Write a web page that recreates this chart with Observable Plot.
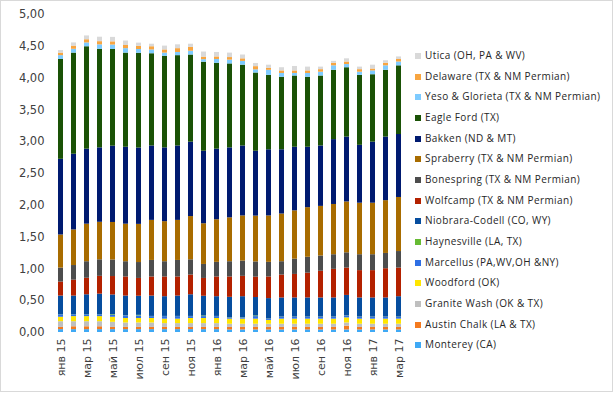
<!DOCTYPE html>
<html>
<head>
<meta charset="utf-8">
<script src="https://cdn.jsdelivr.net/npm/d3@7"></script>
<script src="https://cdn.jsdelivr.net/npm/@observablehq/plot@0.6"></script>
<style>
  html, body { margin: 0; padding: 0; background: #fff; }
  #wrap { position: relative; width: 613px; height: 392px; box-sizing: border-box; border: 1px solid #d9d9d9; overflow: hidden; }
  #chart { position: absolute; left: -1px; top: -1px; }
  .lg { position: absolute; left: 414px; font-family: "Open Sans", sans-serif; font-size: 10px; letter-spacing: 0.4px; color: #262626; white-space: nowrap; height: 14px; line-height: 14px; }
  .lg span.sw { display: inline-block; width: 6px; height: 6px; margin-right: 4px; vertical-align: 0px; }
</style>
</head>
<body>
<div id="wrap"><div id="chart"></div></div>
<script>
const months = [
  "янв 15","фев 15","мар 15","апр 15","май 15","июн 15","июл 15","авг 15","сен 15","окт 15","ноя 15","дек 15",
  "янв 16","фев 16","мар 16","апр 16","май 16","июн 16","июл 16","авг 16","сен 16","окт 16","ноя 16","дек 16",
  "янв 17","фев 17","мар 17"
];
const tickLabels = ["янв 15","мар 15","май 15","июл 15","сен 15","ноя 15","янв 16","мар 16","май 16","июл 16","сен 16","ноя 16","янв 17","мар 17"];
const yTicks = [0, 0.5, 1, 1.5, 2, 2.5, 3, 3.5, 4, 4.5, 5];

// series, bottom of stack first
const monterey    = [0.045,0.045,0.045,0.045,0.045,0.045,0.045,0.045,0.045,0.045,0.045,0.045,0.045,0.04,0.04,0.04,0.04,0.04,0.04,0.04,0.04,0.04,0.04,0.04,0.04,0.04,0.04];
const austinChalk = [0.035,0.045,0.045,0.045,0.035,0.035,0.035,0.035,0.035,0.035,0.035,0.035,0.035,0.04,0.04,0.04,0.04,0.04,0.04,0.04,0.04,0.04,0.06,0.04,0.04,0.04,0.04];
const graniteWash = [0.09,0.08,0.08,0.08,0.08,0.07,0.07,0.07,0.06,0.06,0.06,0.06,0.06,0.05,0.05,0.05,0.05,0.05,0.05,0.05,0.05,0.05,0.05,0.05,0.05,0.05,0.05];
const woodford    = [0.07,0.08,0.08,0.08,0.08,0.07,0.07,0.07,0.07,0.07,0.08,0.08,0.08,0.08,0.08,0.08,0.06,0.08,0.08,0.08,0.08,0.08,0.08,0.08,0.08,0.08,0.08];
const marcellus   = [0.04,0.03,0.03,0.03,0.03,0.04,0.04,0.03,0.04,0.04,0.03,0.03,0.03,0.02,0.02,0.04,0.02,0.03,0.03,0.03,0.03,0.03,0.03,0.03,0.03,0.03,0.03];
const haynesville = [0.003,0.003,0.003,0.003,0.01,0.003,0.01,0.003,0.003,0.003,0.003,0.01,0.003,0.003,0.003,0.01,0.003,0.003,0.003,0.003,0.003,0.003,0.003,0.003,0.003,0.003,0.003];
const niobrara    = [0.29,0.29,0.31,0.32,0.31,0.31,0.30,0.32,0.31,0.32,0.34,0.31,0.31,0.32,0.33,0.29,0.32,0.30,0.30,0.30,0.30,0.30,0.32,0.30,0.30,0.30,0.32];
const wolfcamp    = [0.22,0.25,0.26,0.28,0.29,0.30,0.28,0.30,0.31,0.30,0.31,0.28,0.31,0.32,0.32,0.32,0.34,0.36,0.37,0.39,0.42,0.45,0.43,0.43,0.43,0.46,0.45];
const bonespring  = [0.22,0.23,0.26,0.26,0.26,0.24,0.25,0.26,0.24,0.26,0.24,0.22,0.23,0.24,0.24,0.24,0.23,0.21,0.24,0.25,0.24,0.23,0.24,0.25,0.25,0.24,0.26];
const spraberry   = [0.52,0.56,0.59,0.59,0.59,0.59,0.60,0.63,0.63,0.63,0.68,0.64,0.67,0.69,0.71,0.72,0.73,0.75,0.76,0.78,0.78,0.79,0.80,0.81,0.81,0.83,0.85];
const bakken      = [1.19,1.19,1.18,1.17,1.20,1.21,1.20,1.17,1.16,1.17,1.17,1.14,1.11,1.10,1.10,1.02,1.04,1.01,1.00,0.95,0.95,1.02,1.02,0.91,0.96,1.00,0.99];
const eagleFord   = [1.57,1.59,1.61,1.55,1.52,1.48,1.49,1.45,1.44,1.42,1.37,1.40,1.35,1.32,1.27,1.23,1.17,1.14,1.12,1.10,1.10,1.09,1.09,1.10,1.06,1.05,1.08];
const yeso        = [0.06,0.06,0.06,0.07,0.07,0.07,0.06,0.06,0.05,0.05,0.06,0.04,0.06,0.06,0.06,0.05,0.08,0.06,0.04,0.06,0.06,0.07,0.05,0.05,0.06,0.07,0.06];
const delaware    = [0.04,0.05,0.05,0.05,0.05,0.05,0.05,0.05,0.05,0.06,0.06,0.04,0.04,0.04,0.04,0.05,0.03,0.04,0.04,0.04,0.04,0.04,0.04,0.04,0.03,0.04,0.04];
const utica       = [0.04,0.05,0.06,0.07,0.07,0.07,0.05,0.04,0.06,0.06,0.05,0.08,0.07,0.07,0.06,0.05,0.05,0.05,0.07,0.06,0.04,0.03,0.05,0.04,0.06,0.04,0.04];

const seriesNames = [
  "Monterey (CA)","Austin Chalk (LA & TX)","Granite Wash (OK & TX)","Woodford (OK)",
  "Marcellus (PA,WV,OH &NY)","Haynesville (LA, TX)","Niobrara-Codell (CO, WY)",
  "Wolfcamp (TX & NM Permian)","Bonespring (TX & NM Permian)","Spraberry (TX & NM Permian)",
  "Bakken (ND & MT)","Eagle Ford (TX)","Yeso & Glorieta (TX & NM Permian)",
  "Delaware (TX & NM Permian)","Utica (OH, PA & WV)"
];
const seriesValues = [monterey,austinChalk,graniteWash,woodford,marcellus,haynesville,niobrara,
  wolfcamp,bonespring,spraberry,bakken,eagleFord,yeso,delaware,utica];
const seriesColors = ["#3fa9f5","#f47a1f","#bfbfbf","#ffe600","#2f6fe4","#66bb33","#064d9e",
  "#b32100","#4d4d4d","#a86c00","#001a70","#1a5206","#7ecbff","#f8a540","#d9d9d9"];

const rows = [];
seriesNames.forEach((s, si) => months.forEach((m, mi) => rows.push({month: m, series: s, value: seriesValues[si][mi]})));

const chart = Plot.plot({
  width: 410,
  height: 396,
  marginLeft: 52,
  marginRight: 2,
  marginTop: 14,
  marginBottom: 64,
  style: {fontFamily: "DejaVu Sans, sans-serif", color: "#404040", background: "transparent"},
  x: {domain: months, paddingInner: 0.6, paddingOuter: 0.39, label: null},
  y: {domain: [0, 5], label: null},
  color: {domain: seriesNames, range: seriesColors},
  marks: [
    Plot.axisX({ticks: tickLabels, tickRotate: -90, tickSize: 0, tickPadding: 6, fontSize: 11, label: null}),
    Plot.axisY({ticks: yTicks, tickSize: 0, tickPadding: 8, fontSize: 11.5, tickFormat: d => d.toFixed(2).replace(".", ","), label: null}),
    Plot.barY(rows, {x: "month", y: "value", fill: "series", order: seriesNames})
  ]
});
document.getElementById("chart").appendChild(chart);

const wrap = document.getElementById("wrap");
[...seriesNames].reverse().forEach((s, k) => {
  const div = document.createElement("div");
  div.className = "lg";
  div.style.top = (55 - 7 - 1 + k * 20.66) + "px";
  const sw = document.createElement("span");
  sw.className = "sw";
  sw.style.background = seriesColors[seriesNames.indexOf(s)];
  div.appendChild(sw);
  div.appendChild(document.createTextNode(s));
  wrap.appendChild(div);
});
</script>
</body>
</html>
